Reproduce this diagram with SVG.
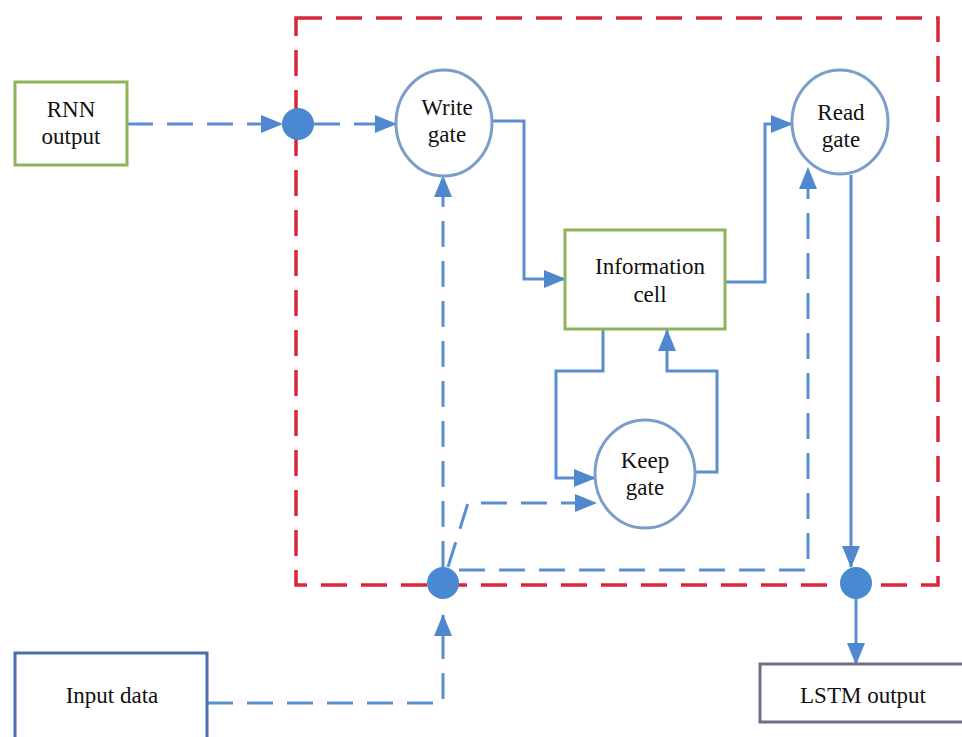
<svg xmlns="http://www.w3.org/2000/svg" width="962" height="737" viewBox="0 0 962 737">
<defs>
<style>
.lbl{font-family:"Liberation Serif","Times New Roman",serif;font-size:23px;fill:#111;text-anchor:middle}
.gate{fill:#fff;stroke:#7b9dc9;stroke-width:3}
.dot{fill:#4a88d2}
.c{fill:none;stroke:#5b8ed0;stroke-width:3}
.d{stroke-dasharray:26 14}
.frame{fill:none;stroke:#d8263a;stroke-width:3.5;stroke-dasharray:26 14}
</style>
<marker id="ah" markerUnits="userSpaceOnUse" markerWidth="22" markerHeight="18" refX="21" refY="9" orient="auto">
<path d="M0,0 L22,9 L0,18 Z" fill="#4f88cf"/>
</marker>
</defs>
<rect width="962" height="737" fill="#fff"/>
<rect class="frame" x="296" y="18" width="642" height="567"/>
<g id="connectors">
<path class="c d" d="M127,124 H282" marker-end="url(#ah)"/>
<path class="c d" d="M314,124 H396" marker-end="url(#ah)"/>
<path class="c" d="M492,121 H524 V279 H565" marker-end="url(#ah)"/>
<path class="c" d="M725,282 H765 V124 H792" marker-end="url(#ah)"/>
<path class="c" d="M851,175 V567" marker-end="url(#ah)"/>
<path class="c" d="M856,599 V664" marker-end="url(#ah)"/>
<path class="c d" d="M207,703 H443 V615" marker-end="url(#ah)"/>
<path class="c d" d="M443,567 V176" marker-end="url(#ah)"/>
<path class="c d" d="M448,567 L468,503 H596" marker-end="url(#ah)"/>
<path class="c d" d="M459,570 H808 V168" marker-end="url(#ah)"/>
<path class="c" d="M603,329 V371 H556 V478 H595" marker-end="url(#ah)"/>
<path class="c" d="M695,472 H717 V371 H667 V330" marker-end="url(#ah)"/>
</g>
<g id="rnn-output">
<rect x="15" y="82" width="112" height="83" fill="#fff" stroke="#8fb35a" stroke-width="3"/>
<text class="lbl" x="71" y="117">RNN</text>
<text class="lbl" x="71" y="144">output</text>
</g>
<g id="input-data">
<rect x="15" y="653" width="192" height="90" fill="#fff" stroke="#4a6fb0" stroke-width="3"/>
<text class="lbl" x="112" y="703">Input data</text>
</g>
<g id="write-gate">
<ellipse class="gate" cx="444" cy="123" rx="48" ry="53"/>
<text class="lbl" x="447" y="115">Write</text>
<text class="lbl" x="447" y="142">gate</text>
</g>
<g id="read-gate">
<ellipse class="gate" cx="840" cy="122" rx="48" ry="52"/>
<text class="lbl" x="841" y="120">Read</text>
<text class="lbl" x="841" y="147">gate</text>
</g>
<g id="information-cell">
<rect x="565" y="230" width="160" height="99" fill="#fff" stroke="#8fb35a" stroke-width="3"/>
<text class="lbl" x="650" y="274">Information</text>
<text class="lbl" x="650" y="302">cell</text>
</g>
<g id="keep-gate">
<ellipse class="gate" cx="645" cy="474" rx="50" ry="54"/>
<text class="lbl" x="645" y="468">Keep</text>
<text class="lbl" x="645" y="495">gate</text>
</g>
<g id="lstm-output">
<rect x="760" y="664" width="210" height="58" fill="#fff" stroke="#6e6e86" stroke-width="3"/>
<text class="lbl" x="863" y="703">LSTM output</text>
</g>
<g id="junction-rnn"><circle class="dot" cx="298" cy="124" r="16"/></g>
<g id="junction-input"><circle class="dot" cx="443" cy="583" r="16"/></g>
<g id="junction-output"><circle class="dot" cx="856" cy="583" r="16"/></g>
</svg>
